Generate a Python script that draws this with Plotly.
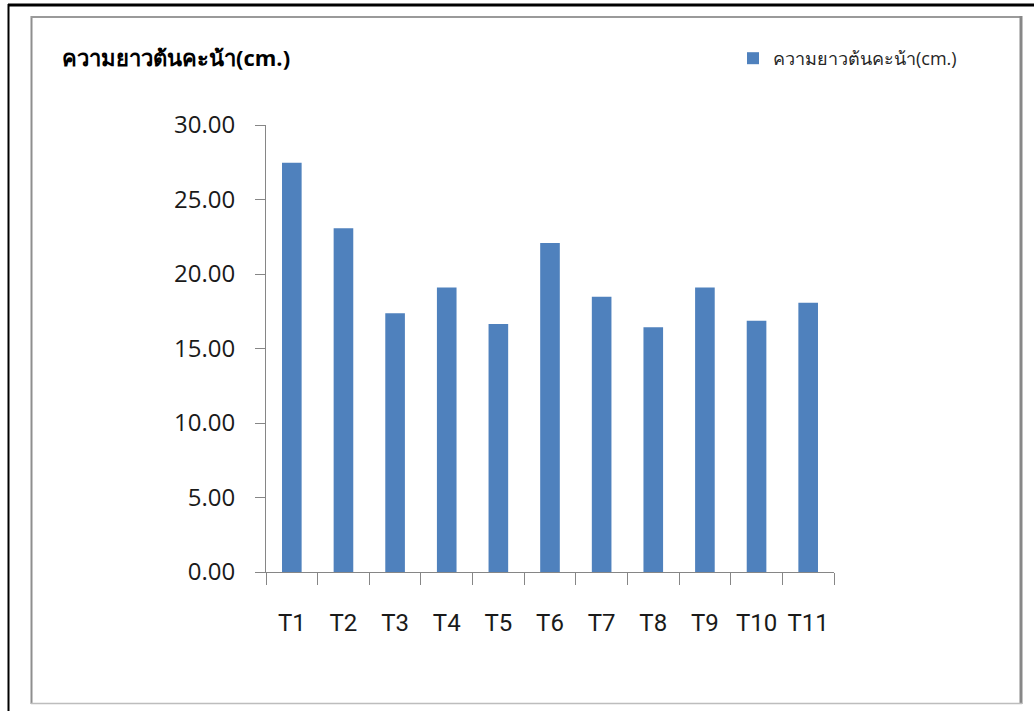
import plotly.graph_objects as go

# Data
categories = ["T1", "T2", "T3", "T4", "T5", "T6", "T7", "T8", "T9", "T10", "T11"]
lengths_cm = [27.47, 23.07, 17.36, 19.10, 16.64, 22.08, 18.48, 16.42, 19.10, 16.87, 18.07]
series_name = "ความยาวต้นคะน้า(cm.)"
chart_title = "ความยาวต้นคะน้า(cm.)"
y_ticks = [0, 5, 10, 15, 20, 25, 30]

W, H = 1034, 711
L, R, T, B = 266, 200, 125, 139
PW, PH = W - L - R, H - T - B

def px_x(x):
    return (x - L) / PW

def px_y(y):
    return 1 - (y - T) / PH

BAR_COLOR = "#4F81BD"
AXIS_COLOR = "#868686"

fig = go.Figure(
    go.Bar(
        x=categories,
        y=lengths_cm,
        name=series_name,
        marker=dict(color=BAR_COLOR, line=dict(width=0)),
        showlegend=True,
    )
)

def line_shape(x0, y0, x1, y1, color, width):
    return dict(
        type="line", xref="paper", yref="paper",
        x0=px_x(x0), y0=px_y(y0), x1=px_x(x1), y1=px_y(y1),
        line=dict(color=color, width=width), layer="above",
    )

shapes = [
    # outer black border
    line_shape(8.5, 4, 8.5, 711, "#000000", 2),
    line_shape(8, 5, 1034, 5, "#000000", 3),
    # inner chart-area frame
    line_shape(31.5, 16, 31.5, 704, "#8e8e8e", 2),
    line_shape(31, 17, 1022, 17, "#9a9a9a", 2),
    line_shape(1021, 16, 1021, 704, "#878787", 3),
    line_shape(31, 703.5, 1022, 703.5, "#bdbdbd", 1.5),
]

fig.update_layout(
    width=W,
    height=H,
    margin=dict(l=L, r=R, t=T, b=B, pad=0),
    paper_bgcolor="white",
    plot_bgcolor="white",
    bargap=0.62,
    shapes=shapes,
    showlegend=True,
    legend=dict(
        x=px_x(733), y=px_y(40), xanchor="left", yanchor="top",
        font=dict(family="Open Sans, sans-serif", size=18, color="#262626"),
        bgcolor="rgba(0,0,0,0)", itemwidth=30,
    ),
    annotations=[
        dict(
            text="<b>" + chart_title + "</b>",
            xref="paper", yref="paper",
            x=px_x(60), y=px_y(57), xanchor="left", yanchor="middle",
            showarrow=False,
            font=dict(family="Open Sans, sans-serif", size=22, color="#000000"),
        )
    ],
    xaxis=dict(
        type="category",
        tickson="boundaries",
        ticks="outside",
        ticklen=12,
        tickcolor=AXIS_COLOR,
        tickwidth=1,
        showline=True,
        linecolor=AXIS_COLOR,
        linewidth=1,
        showgrid=False,
        tickangle=0,
        ticklabelstandoff=29,
        tickfont=dict(family="Roboto, sans-serif", size=24, color="#1a1a1a"),
    ),
    yaxis=dict(
        range=[0, 30],
        tickvals=y_ticks,
        tickformat=".2f",
        ticks="outside",
        ticklen=10,
        tickcolor=AXIS_COLOR,
        tickwidth=1,
        showline=True,
        linecolor=AXIS_COLOR,
        linewidth=1,
        showgrid=False,
        zeroline=False,
        ticklabelstandoff=15,
        tickfont=dict(family="Open Sans, sans-serif", size=24, color="#1a1a1a"),
    ),
)

fig.write_html("out.html")
